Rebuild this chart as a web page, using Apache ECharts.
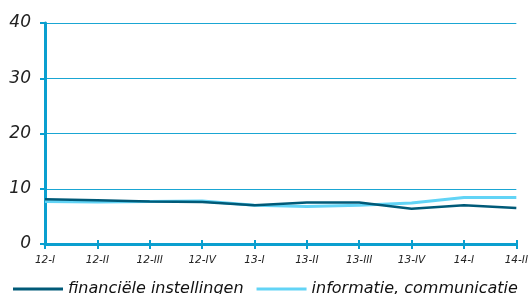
<!DOCTYPE html>
<html>
<head>
<meta charset="utf-8">
<script src="https://cdn.jsdelivr.net/npm/echarts@6/dist/echarts.min.js"></script>
<style>
  html, body { margin: 0; padding: 0; background: #fff; }
  #chart { width: 531px; height: 294px; }
</style>
</head>
<body>
<div id="chart"></div>
<script>
// kwartalen
var categories = ['12-I', '12-II', '12-III', '12-IV', '13-I', '13-II', '13-III', '13-IV', '14-I', '14-II'];
var financieel = [8.1, 7.9, 7.7, 7.6, 7.0, 7.5, 7.5, 6.4, 7.0, 6.5];
var informatie = [7.7, 7.6, 7.7, 7.8, 7.0, 6.8, 7.0, 7.4, 8.4, 8.4];
var yTicks = [0, 10, 20, 30, 40];

var axisBlue = '#0a9fcf';
var labelFont = { fontFamily: 'DejaVu Sans', fontStyle: 'italic', color: '#222' };

var myChart = echarts.init(document.getElementById('chart'));
myChart.setOption({
  animation: false,
  grid: { left: 45, right: 14, top: 23, bottom: 50 },
  legend: {
    top: 281,
    left: 13,
    width: 800,
    padding: 0,
    itemWidth: 50,
    itemHeight: 3,
    itemGap: 13,
    icon: 'rect',
    textStyle: { fontFamily: 'DejaVu Sans', fontStyle: 'italic', fontSize: 16, color: '#111' },
    data: ['financiële instellingen', 'informatie, communicatie']
  },
  xAxis: [{
    type: 'category',
    data: categories,
    boundaryGap: false,
    axisLine: { lineStyle: { color: axisBlue, width: 3 } },
    axisTick: { show: true, length: 5, lineStyle: { color: axisBlue, width: 2 } },
    axisLabel: Object.assign({ fontSize: 10.5, margin: 11 }, labelFont)
  }, {
    // tweede as alleen voor de naar binnen wijzende streepjes
    type: 'category',
    data: categories,
    boundaryGap: false,
    position: 'bottom',
    axisLine: { show: false },
    axisTick: { show: true, inside: true, length: 4, lineStyle: { color: axisBlue, width: 2 } },
    axisLabel: { show: false }
  }],
  yAxis: {
    type: 'value',
    min: yTicks[0],
    max: yTicks[yTicks.length - 1],
    interval: 10,
    axisLine: { show: true, lineStyle: { color: axisBlue, width: 3 } },
    axisTick: { show: true, length: 5, lineStyle: { color: axisBlue, width: 2 } },
    splitLine: { lineStyle: { color: '#1aa6d3', width: 1 } },
    axisLabel: Object.assign({ fontSize: 17, margin: 14 }, labelFont)
  },
  series: [
    {
      name: 'financiële instellingen',
      type: 'line',
      data: financieel,
      symbol: 'none',
      lineStyle: { color: '#005a78', width: 2.5 },
      itemStyle: { color: '#005a78' },
      z: 3
    },
    {
      name: 'informatie, communicatie',
      type: 'line',
      data: informatie,
      symbol: 'none',
      lineStyle: { color: '#62d4f6', width: 3 },
      itemStyle: { color: '#62d4f6' },
      z: 2
    }
  ]
});
</script>
</body>
</html>
